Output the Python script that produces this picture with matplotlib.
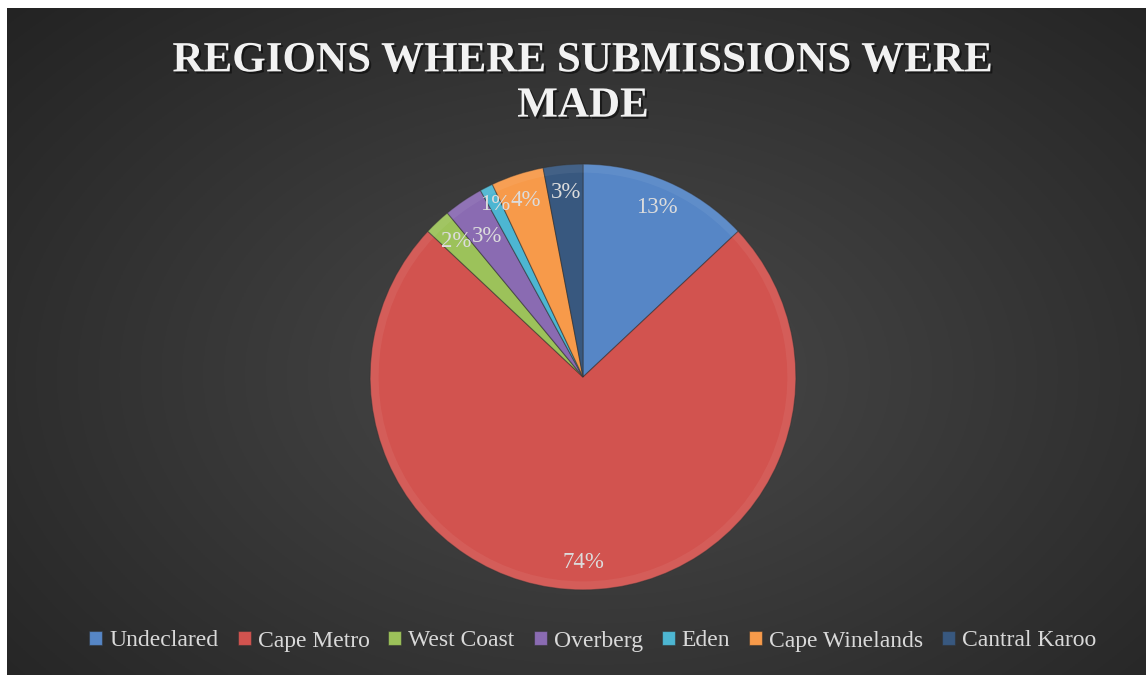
import numpy as np
import matplotlib.pyplot as plt
import matplotlib.patheffects as pe

regions = ["Undeclared", "Cape Metro", "West Coast", "Overberg", "Eden",
           "Cape Winelands", "Cantral Karoo"]
shares = [13, 74, 2, 3, 1, 4, 3]
colors = ["#5686C6", "#D2534F", "#9CC25A", "#8A6BB2", "#4DB6D2",
          "#F79A4A", "#38587F"]
title = "REGIONS WHERE SUBMISSIONS WERE\nMADE"

W, H = 1148, 675


def main():
    fig = plt.figure(figsize=(W / 100, H / 100), dpi=100)
    fig.patch.set_facecolor("white")

    # dark radial gradient background (leaves thin white strip top/left)
    bg = fig.add_axes([7 / W, 0, 1 - 9 / W, 1 - 8 / H])
    bg.set_axis_off()
    yy, xx = np.mgrid[0:1:300j, 0:1:500j]
    d = np.sqrt(((xx - 0.52) / 0.75) ** 2 + ((yy - 0.45) / 0.85) ** 2)
    shade = np.clip(0.29 - 0.16 * d, 0.14, 0.30)
    img = np.dstack([shade, shade, shade])
    bg.imshow(img, extent=[0, 1, 0, 1], aspect="auto", origin="lower")
    bg.set_xlim(0, 1)
    bg.set_ylim(0, 1)

    # pie
    cx, cy, r = 583, 675 - 377, 215
    ax = fig.add_axes([(cx - r) / W, (cy - r) / H, 2 * r / W, 2 * r / H])
    wedges, texts, autotexts = ax.pie(
        shares, colors=colors, startangle=90, counterclock=False,
        radius=1.0, autopct="%d%%", pctdistance=0.87,
        wedgeprops=dict(edgecolor="#30303080", linewidth=0.8),
        textprops=dict(color="#DCDCDC", fontsize=16.5,
                       family="Liberation Serif"))
    # crowded small slices: spread labels a little along the radius
    for i, dist in [(3, 0.80), (4, 0.91)]:
        w = wedges[i]
        a = np.deg2rad((w.theta1 + w.theta2) / 2)
        autotexts[i].set_position((dist * np.cos(a), dist * np.sin(a)))
    # subtle bevel on the rim
    ax.pie(shares, colors=["none"] * len(shares), startangle=90,
           counterclock=False, radius=1.0,
           wedgeprops=dict(width=0.04, edgecolor="none",
                           facecolor="white", alpha=0.06))
    ax.set_xlim(-1.01, 1.01)
    ax.set_ylim(-1.01, 1.01)
    ax.set_axis_off()

    fig.text(583 / W, 1 - 84 / H, title, ha="center", va="center",
             fontsize=31, fontweight="bold", color="#F2F2F2",
             family="Liberation Serif", linespacing=1.25,
             path_effects=[pe.withSimplePatchShadow(offset=(1.5, -1.5),
                                                    shadow_rgbFace="black",
                                                    alpha=0.5)])

    leg = fig.legend(wedges, regions, loc="center", ncol=7,
                     bbox_to_anchor=(593 / W, 1 - 641 / H), frameon=False,
                     handlelength=0.55, handleheight=0.55, handletextpad=0.3,
                     columnspacing=0.8,
                     prop=dict(family="Liberation Serif", size=17))
    for t in leg.get_texts():
        t.set_color("#D9D9D9")

    fig.savefig("out.png", dpi=100, facecolor=fig.get_facecolor())


if __name__ == "__main__":
    main()
